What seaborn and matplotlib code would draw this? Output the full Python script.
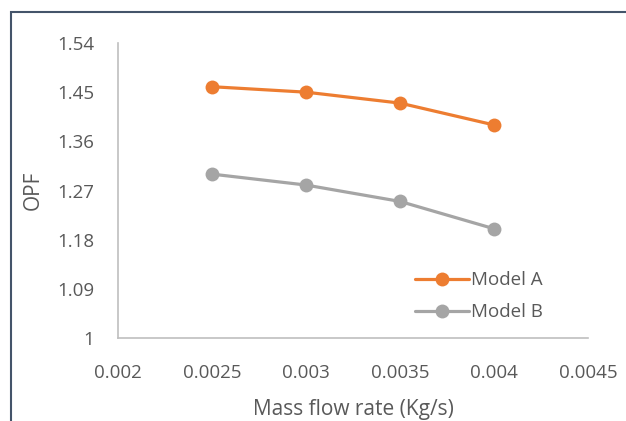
import matplotlib
matplotlib.use("Agg")
import matplotlib.pyplot as plt
import seaborn as sb
import pandas as pd
from matplotlib.patches import Rectangle

flow = [0.0025, 0.003, 0.0035, 0.004]
modelA = [1.46, 1.45, 1.43, 1.39]
modelB = [1.30, 1.28, 1.25, 1.20]
yticks = [1, 1.09, 1.18, 1.27, 1.36, 1.45, 1.54]
xticks = [0.002, 0.0025, 0.003, 0.0035, 0.004, 0.0045]
xlabels = ["0.002", "0.0025", "0.003", "0.0035", "0.004", "0.0045"]

df = pd.DataFrame({
	"flow": flow * 2,
	"OPF": modelA + modelB,
	"model": ["Model A"] * 4 + ["Model B"] * 4,
})

sb.set_style("white")
plt.rcParams['font.family'] = ['Open Sans', 'DejaVu Sans']
txt = "#595959"

fig = plt.figure(figsize=(6.26, 4.21), dpi=100)
ax = fig.add_axes([118/626, 1-338/421, 470/626, 295/421])

sb.lineplot(data=df, x="flow", y="OPF", hue="model",
	palette={"Model A": "#ED7D31", "Model B": "#A5A5A5"},
	marker="o", markersize=10, markeredgewidth=0, linewidth=2.3, ax=ax)

ax.set_xlim(0.002, 0.0045)
ax.set_ylim(1, 1.54)
ax.set_yticks(yticks)
ax.set_yticklabels([f"{v:g}" for v in yticks])
ax.set_xticks(xticks)
ax.set_xticklabels(xlabels)
ax.tick_params(axis="both", colors=txt, labelsize=13.5, length=0)
ax.tick_params(axis="y", pad=17)
ax.tick_params(axis="x", pad=19)
for s in ["top", "right"]:
	ax.spines[s].set_visible(False)
for s in ["left", "bottom"]:
	ax.spines[s].set_color("#BFBFBF")
	ax.spines[s].set_linewidth(1.2)
ax.set_xlabel("Mass flow rate (Kg/s)", color=txt, fontsize=15, labelpad=12)
ax.set_ylabel("OPF", color=txt, fontsize=15, labelpad=10)

leg = ax.legend(title=None, frameon=False, fontsize=13.5, loc="lower right",
	bbox_to_anchor=(0.94, 0.0), handlelength=2.9, handletextpad=0.1, labelspacing=0.75)
for t in leg.get_texts():
	t.set_color(txt)

fig.patches.append(Rectangle((11/626, -0.5), 2, 1.5 - 12/421, transform=fig.transFigure,
	fill=False, edgecolor="#44546A", linewidth=1.5))

fig.savefig("out.png", dpi=100)
